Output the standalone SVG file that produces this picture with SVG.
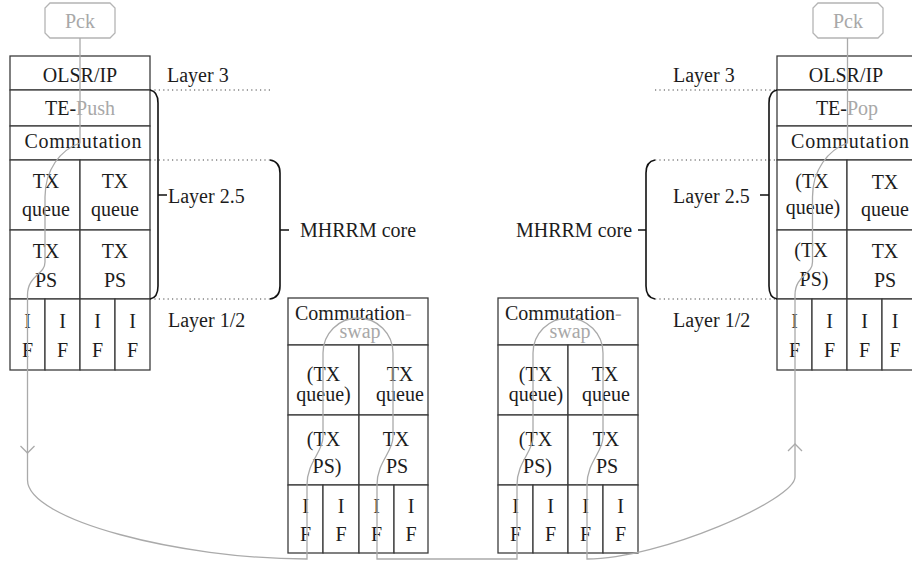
<svg xmlns="http://www.w3.org/2000/svg" width="912" height="561" viewBox="0 0 912 561">
<style>
.cell{fill:#fff;stroke:#3c3c3c;stroke-width:1.3}
.pck{fill:#fff;stroke:#b4b4b4;stroke-width:1.3}
.t{font-family:"Liberation Serif","Times New Roman",serif;font-size:20px;fill:#1c1c1c;text-anchor:middle}
.s{text-anchor:start}
.g{fill:#a8a8a8}
.dot{fill:none;stroke:#444;stroke-width:1.2;stroke-dasharray:1.2 3.2}
.brace{fill:none;stroke:#111;stroke-width:1.6}
.flow{fill:none;stroke:#aaa;stroke-width:1.3}
</style>
<rect width="912" height="561" fill="#fff"/>

<g id="pck-left">
<polygon class="pck" points="50,3 110,3 115,8 115,33 110,38 50,38 45,33 45,8"/>
<text class="t g" x="80" y="28">Pck</text>
</g>
<g id="pck-right">
<polygon class="pck" points="818,3 878,3 883,8 883,33 878,38 818,38 813,33 813,8"/>
<text class="t g" x="848" y="28">Pck</text>
</g>

<g id="stack-left">
<rect class="cell" x="10" y="56" width="140" height="34"/>
<rect class="cell" x="10" y="90" width="140" height="36"/>
<rect class="cell" x="10" y="126" width="140" height="34"/>
<rect class="cell" x="10" y="160" width="70" height="70"/>
<rect class="cell" x="80" y="160" width="70" height="70"/>
<rect class="cell" x="10" y="230" width="70" height="69"/>
<rect class="cell" x="80" y="230" width="70" height="69"/>
<rect class="cell" x="10" y="299" width="35" height="71"/>
<rect class="cell" x="45" y="299" width="35" height="71"/>
<rect class="cell" x="80" y="299" width="35" height="71"/>
<rect class="cell" x="115" y="299" width="35" height="71"/>
<text class="t" x="80" y="82">OLSR/IP</text>
<text class="t" x="80" y="115">TE-<tspan class="g">Push</tspan></text>
<text class="t" x="83" y="148" textLength="117" lengthAdjust="spacing">Commutation</text>
<text class="t" x="46" y="188">TX</text><text class="t" x="46" y="216">queue</text>
<text class="t" x="115" y="188">TX</text><text class="t" x="115" y="216">queue</text>
<text class="t" x="46" y="258">TX</text><text class="t" x="46" y="287">PS</text>
<text class="t" x="115" y="258">TX</text><text class="t" x="115" y="287">PS</text>
<text class="t" x="27.5" y="328">I</text><text class="t" x="27.5" y="357">F</text>
<text class="t" x="62.5" y="328">I</text><text class="t" x="62.5" y="357">F</text>
<text class="t" x="97.5" y="328">I</text><text class="t" x="97.5" y="357">F</text>
<text class="t" x="132.5" y="328">I</text><text class="t" x="132.5" y="357">F</text>
</g>

<g id="stack-right">
<rect class="cell" x="777" y="56" width="140" height="34"/>
<rect class="cell" x="777" y="90" width="140" height="36"/>
<rect class="cell" x="777" y="126" width="140" height="34"/>
<rect class="cell" x="777" y="160" width="70" height="70"/>
<rect class="cell" x="847" y="160" width="70" height="70"/>
<rect class="cell" x="777" y="230" width="70" height="69"/>
<rect class="cell" x="847" y="230" width="70" height="69"/>
<rect class="cell" x="777" y="299" width="35" height="71"/>
<rect class="cell" x="812" y="299" width="35" height="71"/>
<rect class="cell" x="847" y="299" width="35" height="71"/>
<rect class="cell" x="882" y="299" width="35" height="71"/>
<text class="t" x="846" y="82">OLSR/IP</text>
<text class="t" x="847" y="115">TE-<tspan class="g">Pop</tspan></text>
<text class="t" x="850" y="148" textLength="118" lengthAdjust="spacing">Commutation</text>
<text class="t" x="812" y="188">(TX</text><text class="t" x="813" y="214">queue)</text>
<text class="t" x="885" y="189">TX</text><text class="t" x="885" y="216">queue</text>
<text class="t" x="811" y="257">(TX</text><text class="t" x="814" y="286">PS)</text>
<text class="t" x="885" y="258">TX</text><text class="t" x="885" y="287">PS</text>
<text class="t" x="794.5" y="328">I</text><text class="t" x="794.5" y="357">F</text>
<text class="t" x="829.5" y="328">I</text><text class="t" x="829.5" y="357">F</text>
<text class="t" x="864.5" y="328">I</text><text class="t" x="864.5" y="357">F</text>
<text class="t" x="895" y="328">I</text><text class="t" x="895" y="357">F</text>
</g>

<g id="stack-mid-left">
<rect class="cell" x="288" y="298" width="140" height="47"/>
<rect class="cell" x="288" y="345" width="71" height="70"/>
<rect class="cell" x="359" y="345" width="69" height="70"/>
<rect class="cell" x="288" y="415" width="71" height="70"/>
<rect class="cell" x="359" y="415" width="69" height="70"/>
<rect class="cell" x="288" y="485" width="35" height="68"/>
<rect class="cell" x="323" y="485" width="36" height="68"/>
<rect class="cell" x="359" y="485" width="35" height="68"/>
<rect class="cell" x="394" y="485" width="34" height="68"/>
<text class="t s" x="295" y="320">Commutation<tspan class="g">-</tspan></text>
<text class="t g" x="360" y="338">swap</text>
<text class="t" x="323.5" y="381">(TX</text><text class="t" x="323.5" y="401">queue)</text>
<text class="t" x="400" y="381">TX</text><text class="t" x="400" y="401">queue</text>
<text class="t" x="323.5" y="446">(TX</text><text class="t" x="327" y="473">PS)</text>
<text class="t" x="396" y="446">TX</text><text class="t" x="397" y="473">PS</text>
<text class="t" x="305.5" y="513">I</text><text class="t" x="305.5" y="541">F</text>
<text class="t" x="341" y="513">I</text><text class="t" x="341" y="541">F</text>
<text class="t" x="376.5" y="513">I</text><text class="t" x="376.5" y="541">F</text>
<text class="t" x="411" y="513">I</text><text class="t" x="411" y="541">F</text>
</g>

<g id="stack-mid-right">
<rect class="cell" x="498" y="298" width="140" height="47"/>
<rect class="cell" x="498" y="345" width="70" height="70"/>
<rect class="cell" x="568" y="345" width="70" height="70"/>
<rect class="cell" x="498" y="415" width="70" height="70"/>
<rect class="cell" x="568" y="415" width="70" height="70"/>
<rect class="cell" x="498" y="485" width="35" height="68"/>
<rect class="cell" x="533" y="485" width="35" height="68"/>
<rect class="cell" x="568" y="485" width="35" height="68"/>
<rect class="cell" x="603" y="485" width="35" height="68"/>
<text class="t s" x="505" y="320">Commutation<tspan class="g">-</tspan></text>
<text class="t g" x="570" y="338">swap</text>
<text class="t" x="535.5" y="381">(TX</text><text class="t" x="536" y="401">queue)</text>
<text class="t" x="605" y="381">TX</text><text class="t" x="606" y="401">queue</text>
<text class="t" x="535.5" y="446">(TX</text><text class="t" x="537.5" y="473">PS)</text>
<text class="t" x="606" y="446">TX</text><text class="t" x="607" y="473">PS</text>
<text class="t" x="515.5" y="513">I</text><text class="t" x="515.5" y="541">F</text>
<text class="t" x="550.5" y="513">I</text><text class="t" x="550.5" y="541">F</text>
<text class="t" x="585.5" y="513">I</text><text class="t" x="585.5" y="541">F</text>
<text class="t" x="620.5" y="513">I</text><text class="t" x="620.5" y="541">F</text>
</g>

<g id="layer-guides">
<path class="dot" d="M150,90 H270 M150,160 H270 M150,299 H270 M655,90 H777 M655,160 H777 M655,299 H777"/>
<path class="brace" d="M150,90 C156,91 158,96 158,103 V286 C158,293 156,298 150,299 M158,195 H167"/>
<path class="brace" d="M270,160 C277,161 280,166 280,173 V286 C280,293 277,298 270,299 M280,230 H289"/>
<path class="brace" d="M777,90 C771,91 769,96 769,103 V286 C769,293 771,298 777,299 M769,195 H760"/>
<path class="brace" d="M655,160 C649,161 646,166 646,173 V286 C646,293 649,298 655,299 M646,230 H638"/>
</g>

<g id="labels">
<text class="t s" x="167" y="82">Layer 3</text>
<text class="t s" x="168" y="203">Layer 2.5</text>
<text class="t s" x="300" y="237">MHRRM core</text>
<text class="t s" x="168" y="327">Layer 1/2</text>
<text class="t s" x="673" y="82">Layer 3</text>
<text class="t s" x="673" y="203">Layer 2.5</text>
<text class="t" x="574" y="237">MHRRM core</text>
<text class="t s" x="673" y="327">Layer 1/2</text>
</g>

<g id="connectors">
<path class="flow" d="M80,38 V143 C60,150 45,170 45,197 V262 C45,275 27.5,275 27.5,295 V480 C27.5,520 180,559 307,559 V485 C307,462 323,452 323,437 V353 A35,35 0 0 1 393,353 V437 C393,452 377,462 377,485 V559 H517 V485 C517,462 533,452 533,437 V353 A35,35 0 0 1 603,353 V437 C603,452 587,462 587,485 V559 C660,559 795,500 795,477 V295 C795,275 812.5,275 812.5,262 V197 C812.5,170 828,150 847.5,143 V38"/>
<path class="flow" d="M20.5,446 L27.5,453 L34.5,446"/>
<path class="flow" d="M788,451 L795,444 L802,451"/>
</g>
</svg>
